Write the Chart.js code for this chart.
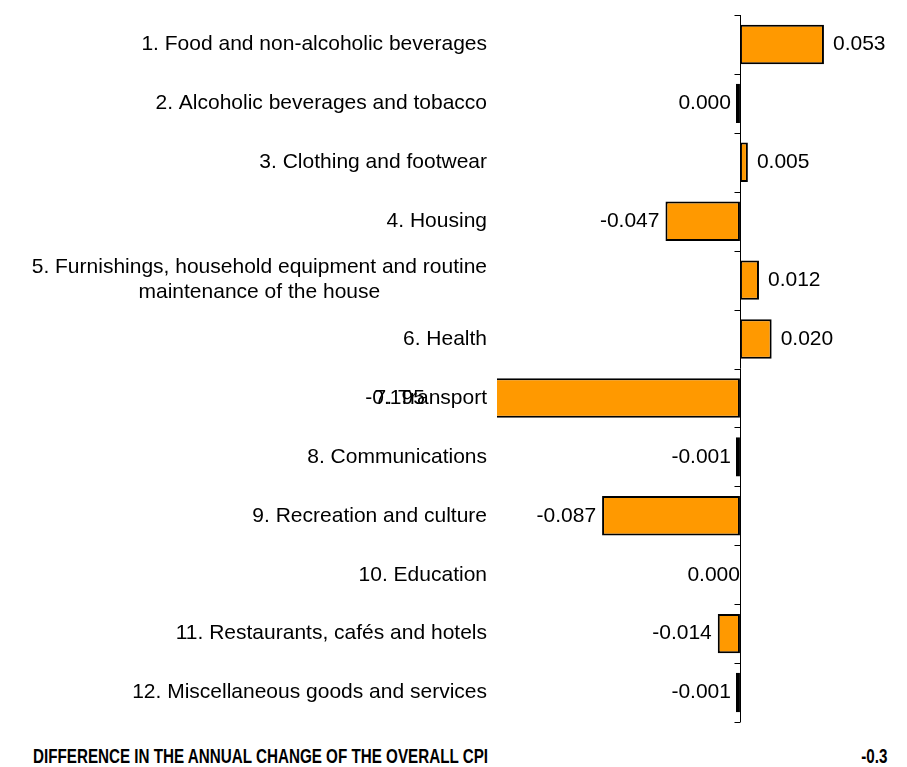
<!DOCTYPE html>
<html>
<head>
<meta charset="utf-8">
<script src="https://cdn.jsdelivr.net/npm/chart.js@4.4.0/dist/chart.umd.min.js"></script>
<style>
  body { margin: 0; background: #fff; font-family: "Liberation Sans", Arial, sans-serif; }
  #wrap { position: relative; width: 907px; height: 767px; overflow: hidden; }
  #box { position: absolute; left: 0; top: 0; width: 907px; height: 730px; }
  .foot { position: absolute; top: 744px; font-weight: bold; font-size: 20px; line-height: 24px; color: #000; white-space: nowrap; }
  #footLabel { left: 33px; transform-origin: left center; }
  #footValue { right: 20px; transform-origin: right center; }
</style>
</head>
<body>
<div id="wrap">
  <div id="box"><canvas id="cpiChart"></canvas></div>
  <div class="foot" id="footLabel"></div>
  <div class="foot" id="footValue"></div>
</div>
<script>
var categories = [
    '1. Food and non-alcoholic beverages',
    '2. Alcoholic beverages and tobacco',
    '3. Clothing and footwear',
    '4. Housing',
    ['5. Furnishings, household equipment and routine', 'maintenance of the house'],
    '6. Health',
    '7. Transport',
    '8. Communications',
    '9. Recreation and culture',
    '10. Education',
    '11. Restaurants, cafés and hotels',
    '12. Miscellaneous goods and services'
];
var values = [0.053, -0.0004, 0.005, -0.047, 0.012, 0.020, -0.195, -0.001, -0.087, 0, -0.014, -0.001];
var footLabel = 'DIFFERENCE IN THE ANNUAL CHANGE OF THE OVERALL CPI';
var footValue = '-0.3';

// footer text is a condensed bold face in the original, squeeze it to fit
var fl = document.getElementById('footLabel');
var fv = document.getElementById('footValue');
fl.textContent = footLabel;
fv.textContent = footValue;
var squeeze = 455 / fl.getBoundingClientRect().width;
fl.style.transform = 'scaleX(' + squeeze + ')';
fv.style.transform = 'scaleX(' + squeeze + ')';

function fmt(v) {
    var s = v.toFixed(3);
    if (s === '-0.000') s = '0.000';
    return s;
}

// zero line with small ticks between the categories
var zeroAxis = {
    id: 'zeroAxis',
    beforeDatasetsDraw: function(chart) {
        var ctx = chart.ctx, x = chart.scales.x, area = chart.chartArea;
        var x0 = Math.round(x.getPixelForValue(0)) + 0.5;
        var step = (area.bottom - area.top) / categories.length;
        ctx.save();
        ctx.strokeStyle = '#000';
        ctx.lineWidth = 1;
        ctx.beginPath();
        ctx.moveTo(x0, area.top);
        ctx.lineTo(x0, area.bottom);
        for (var i = 0; i <= categories.length; i++) {
            var yy = Math.round(area.top + i * step) + 0.5;
            ctx.moveTo(x0 - 6, yy);
            ctx.lineTo(x0, yy);
        }
        ctx.stroke();
        ctx.restore();
    }
};

// category labels (multi-line ones are centred under their first line) and values
var labelsPlugin = {
    id: 'labelsPlugin',
    afterDraw: function(chart) {
        var ctx = chart.ctx, x = chart.scales.x, y = chart.scales.y;
        var right = chart.chartArea.left - 10;
        ctx.save();
        ctx.fillStyle = '#000';
        ctx.font = '21px "Liberation Sans", Arial, sans-serif';
        ctx.textBaseline = 'middle';
        categories.forEach(function(cat, i) {
            var cy = y.getPixelForValue(i);
            if (Array.isArray(cat)) {
                var w = 0;
                cat.forEach(function(line) { w = Math.max(w, ctx.measureText(line).width); });
                var cx = right - w / 2;
                ctx.textAlign = 'center';
                var lh = 25;
                cat.forEach(function(line, k) {
                    ctx.fillText(line, cx, cy + (k - (cat.length - 1) / 2) * lh);
                });
            } else {
                ctx.textAlign = 'right';
                ctx.fillText(cat, right, cy);
            }
        });
        values.forEach(function(v, i) {
            var px = x.getPixelForValue(v);
            var cy = y.getPixelForValue(i);
            if (v > 0) {
                ctx.textAlign = 'left';
                ctx.fillText(fmt(v), px + 9, cy);
            } else if (v < 0) {
                ctx.textAlign = 'right';
                ctx.fillText(fmt(v), Math.min(px, x.getPixelForValue(0) - 3) - 6, cy);
            } else {
                ctx.textAlign = 'right';
                ctx.fillText(fmt(v), px, cy);
            }
        });
        ctx.restore();
    }
};

var ctx = document.getElementById('cpiChart').getContext('2d');
var chart = new Chart(ctx, {
    type: 'bar',
    data: {
        labels: categories,
        datasets: [{
            // an exact zero draws no bar at all
            data: values.map(function(v) { return v === 0 ? null : v; }),
            backgroundColor: '#FF9900',
            borderColor: '#000000',
            borderWidth: 2,
            borderSkipped: false,
            minBarLength: 4,
            barPercentage: 0.67,
            categoryPercentage: 1
        }]
    },
    options: {
        indexAxis: 'y',
        responsive: true,
        maintainAspectRatio: false,
        animation: false,
        layout: { padding: { top: 15, bottom: 8, left: 0, right: 0 } },
        plugins: {
            legend: { display: false },
            tooltip: { enabled: false }
        },
        scales: {
            x: {
                min: -0.1533,
                max: 0.1054,
                display: false
            },
            y: {
                grid: { display: false },
                border: { display: false },
                ticks: { display: false },
                afterFit: function(scale) { scale.width = 497; }
            }
        }
    },
    plugins: [zeroAxis, labelsPlugin]
});
</script>
</body>
</html>
